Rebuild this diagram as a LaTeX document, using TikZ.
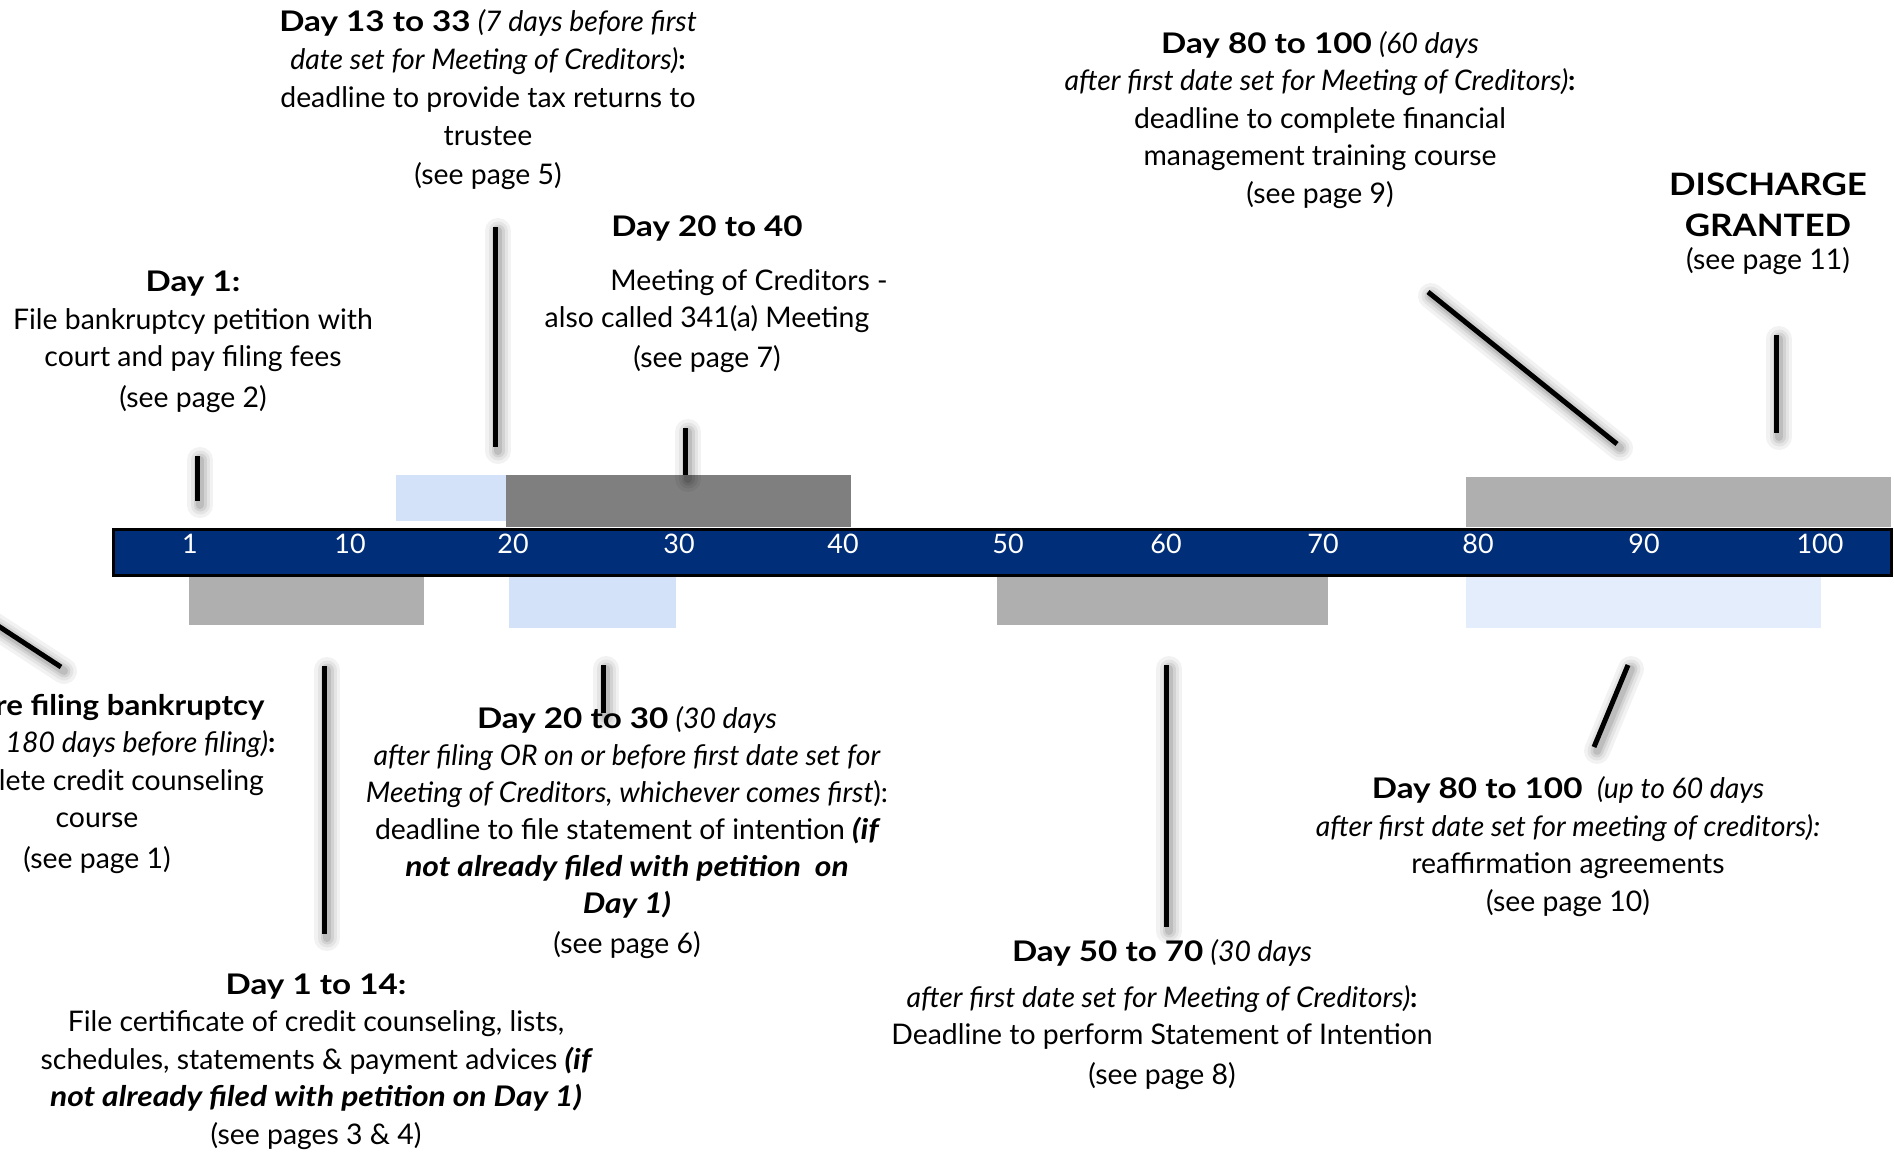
\documentclass[tikz,border=0pt]{standalone}
\usepackage{graphicx}
\usepackage{fontspec}
\setmainfont{Lato}
\definecolor{barblue}{RGB}{0,46,120}
\definecolor{lblue}{RGB}{211,226,249}
\definecolor{vlblue}{RGB}{228,237,251}
\definecolor{mgray}{RGB}{175,175,175}
\definecolor{dgray}{RGB}{127,127,127}
\newcommand\Bx[1]{\scalebox{1.17}[1]{\bfseries #1}}
\newcommand\BIx[1]{\scalebox{1.12}[1]{\bfseries\itshape #1}}
\newcommand\myshadow[2]{%
  \foreach \w/\o in {26/0.05,19/0.06,13/0.08,8/0.1}{%
    \draw[line width=\w bp, black, opacity=\o, line cap=round,
      transform canvas={shift={(3bp,-4bp)}}] (#1) -- (#2);}}
\begin{document}
\begin{tikzpicture}[x=1bp,y=-1bp,
  txt/.style={align=center, inner sep=0pt, anchor=base, font=\fontsize{28.5}{37.5}\selectfont},
  conn/.style={line width=5bp, black},
  tick/.style={inner sep=0pt, anchor=base, text=white, font=\fontsize{27}{27}\selectfont}]
\useasboundingbox (0,0) rectangle (1894,1152);
\clip (0,0) rectangle (1894,1152);

% boxes above the bar
\fill[lblue] (396,475) rectangle (506,521);
\fill[dgray] (506,475) rectangle (851,527);
\fill[mgray] (1466,477) rectangle (1891,527);
% boxes below the bar
\fill[mgray] (189,575) rectangle (424,625);
\fill[lblue] (509,577) rectangle (676,628);
\fill[mgray] (997,575) rectangle (1328,625);
\fill[vlblue] (1466,577) rectangle (1821,628);

% the bar
\node[draw=black, line width=3bp, fill=barblue, inner sep=0pt, minimum width=1778bp,
  minimum height=46bp, anchor=north west] (bar) at (111.5,527.5) {};

% tick labels
\foreach \x/\t [count=\i] in {190/1,350/10,513/20,679/30,843/40,1008/50,1166/60,1323/70,1478/80,1644/90,1820/100}
  \node[tick] (t\i) at (\x,553) {\t};

% connector end points
\coordinate (c1a) at (197,456);  \coordinate (c1b) at (197,501);
\coordinate (c2a) at (495,227);  \coordinate (c2b) at (495,447);
\coordinate (c3a) at (685,428);  \coordinate (c3b) at (685,475);
\coordinate (c4a) at (1428,292); \coordinate (c4b) at (1617,444);
\coordinate (c5a) at (1776,335); \coordinate (c5b) at (1776,433);
\coordinate (c6a) at (-20,614);  \coordinate (c6b) at (61,667);
\coordinate (c7a) at (324,666);  \coordinate (c7b) at (324,934);
\coordinate (c8a) at (603,665);  \coordinate (c8b) at (603,713);
\coordinate (c9a) at (1166,665); \coordinate (c9b) at (1166,927);
\coordinate (c10a) at (1628,665); \coordinate (c10b) at (1594,747);

\foreach \k in {1,...,10}{\myshadow{c\k a}{c\k b}}
\foreach \k in {1,...,10}{\draw[conn] (c\k a) -- (c\k b);}

% texts (anchor = baseline of the last line)
\node[txt, font=\fontsize{28.5}{38.2}\selectfont] (A) at (488,184) {\Bx{Day 13 to 33} \textit{(7 days before first}\\
  \textit{date set for Meeting of Creditors)}\textbf{:}\\
  deadline to provide tax returns to\\ trustee\\ (see page 5)};

\node[txt] (B) at (707,367) {\Bx{Day 20 to 40}\\[16pt]
  \hspace*{84bp}Meeting of Creditors -\\
  also called 341(a) Meeting\\[2pt] (see page 7)};

\node[txt] (C) at (193,407) {\Bx{Day 1:}\\ File bankruptcy petition with\\
  court and pay filing fees\\[3pt] (see page 2)};

\node[txt] (D) at (1320,203) {\Bx{Day 80 to 100} \textit{(60 days}\\
  \textit{after first date set for Meeting of Creditors)}\textbf{:}\\
  deadline to complete financial\\ management training course\\ (see page 9)};

\node[txt, font=\fontsize{28.5}{41}\selectfont] (E) at (1768,269) {{\fontsize{31}{41}\selectfont\scalebox{1.13}[1]{\bfseries DISCHARGE}}\\
  {\fontsize{31}{41}\selectfont\scalebox{1.13}[1]{\bfseries GRANTED}}\\[-8pt] (see page 11)};

\node[txt] (F) at (97,868) {\scalebox{1.1}[1]{\bfseries Before filing bankruptcy}\\
  \textit{(within 180 days before filing)}\textbf{:}\\
  complete credit counseling\\ course\\[3pt] (see page 1)};

\node[txt, font=\fontsize{28.5}{37.3}\selectfont] (G) at (627,953) {\Bx{Day 20 to 30} \textit{(30 days}\\
  \textit{after filing OR on or before first date set for}\\
  \textit{Meeting of Creditors, whichever comes first}):\\
  deadline to file statement of intention \BIx{(if}\\
  \BIx{not already filed with petition\ \ on}\\
  \BIx{Day 1)}\\[2pt] (see page 6)};

\node[txt] (H) at (316,1144) {\Bx{Day 1 to 14:}\\
  File certificate of credit counseling, lists,\\
  schedules, statements \& payment advices \BIx{(if}\\
  \BIx{not already filed with petition on Day 1)}\\
  (see pages 3 \& 4)};

\node[txt] (I) at (1162,1084) {\Bx{Day 50 to 70} \textit{(30 days}\\[8pt]
  \textit{after first date set for Meeting of Creditors)}\textbf{:}\\
  Deadline to perform Statement of Intention\\[2pt] (see page 8)};

\node[txt] (J) at (1568,911) {\Bx{Day 80 to 100}\ \ \textit{(up to 60 days}\\
  \textit{after first date set for meeting of creditors):}\\
  reaffirmation agreements\\ (see page 10)};
\end{tikzpicture}
\end{document}
